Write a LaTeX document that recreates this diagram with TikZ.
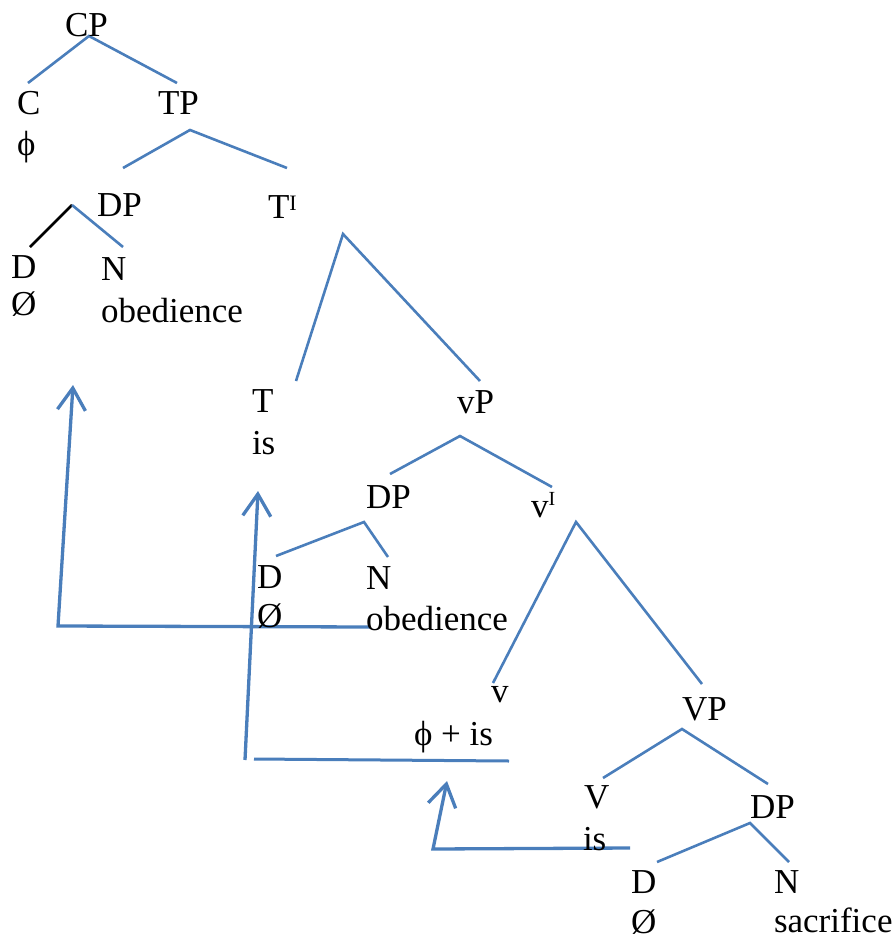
\documentclass[tikz,border=0pt]{standalone}
\usepackage{fontspec}
\setmainfont{Liberation Serif}
\usetikzlibrary{arrows.meta}
\definecolor{lineblue}{RGB}{74,126,187}
\newcommand{\supI}[2]{\raisebox{#2}{\fontsize{#1}{#1}\selectfont I}}
\begin{document}
\begin{tikzpicture}[x=1pt,y=-1pt,
  lbl/.style={anchor=base west, inner sep=0pt, outer sep=0pt, font=\fontsize{35}{42}\selectfont},
  branch/.style={draw=lineblue, line width=2.6pt},
  blackbranch/.style={draw=black, line width=2.6pt},
  movearrow/.style={draw=lineblue, line width=3.3pt, -{Straight Barb[length=22pt,width=28pt,line width=3.3pt]}},
  moveline/.style={draw=lineblue, line width=3pt}
]
\useasboundingbox (0,0) rectangle (895,939);

% ---------- branch coordinates ----------
\coordinate (cpB) at (89,36);   \coordinate (cT) at (28,83);   \coordinate (tpT) at (177,83);
\coordinate (tpB) at (190,130); \coordinate (dp1T) at (123,168); \coordinate (tbarT) at (287,168);
\coordinate (dp1B) at (72,205); \coordinate (d1T) at (30,247); \coordinate (n1T) at (123,247);
\coordinate (tbarB) at (343,234); \coordinate (tT) at (296,381); \coordinate (vpT) at (480,381);
\coordinate (vpB) at (460,436); \coordinate (dp2T) at (390,474); \coordinate (vbarT) at (552,487);
\coordinate (dp2B) at (364,522); \coordinate (d2T) at (276,556); \coordinate (n2T) at (388,557);
\coordinate (vbarB) at (576,522); \coordinate (vT) at (493,683); \coordinate (VPT) at (702,684);
\coordinate (VPB) at (682,729); \coordinate (VT) at (603,778); \coordinate (dp3T) at (768,784);
\coordinate (dp3B) at (750,823); \coordinate (d3T) at (657,862); \coordinate (n3T) at (789,862);

% ---------- branches ----------
\draw[branch] (cT) -- (cpB) -- (tpT);
\draw[branch] (dp1T) -- (tpB) -- (tbarT);
\draw[blackbranch] (d1T) -- (dp1B);
\draw[branch] (dp1B) -- (n1T);
\draw[branch] (tT) -- (tbarB) -- (vpT);
\draw[branch] (dp2T) -- (vpB) -- (vbarT);
\draw[branch] (d2T) -- (dp2B) -- (n2T);
\draw[branch] (vT) -- (vbarB) -- (VPT);
\draw[branch] (VT) -- (VPB) -- (dp3T);
\draw[branch] (d3T) -- (dp3B) -- (n3T);

% ---------- movement arrows ----------
\coordinate (m1s) at (370,627); \coordinate (m1c) at (58,626); \coordinate (m1t) at (73,385);
\draw[movearrow] (m1s) -- (m1c) -- (m1t);
\coordinate (m2s) at (245,760); \coordinate (m2t) at (258,491);
\draw[movearrow] (m2s) -- (m2t);
\coordinate (m2a) at (254,759); \coordinate (m2b) at (509,761);
\draw[moveline] (m2a) -- (m2b);
\coordinate (m3s) at (630,848); \coordinate (m3c) at (433,849); \coordinate (m3t) at (447,781);
\draw[movearrow] (m3s) -- (m3c) -- (m3t);

% ---------- labels ----------
\node[lbl] (cp) at (65,37) {CP};
\node[lbl] (c) at (17,115) {C};
\node[lbl] (cphi) at (17,155) {ϕ};
\node[lbl] (tp) at (158,115) {TP};
\node[lbl] (dp1) at (97,216) {DP};
\node[lbl] (tbar) at (268,218) {T\supI{22}{8pt}};
\node[lbl] (d1) at (11,278) {D};
\node[lbl] (d1null) at (11,315) {Ø};
\node[lbl] (n1) at (101,280) {N};
\node[lbl] (n1w) at (101,322) {obedience};
\node[lbl] (t) at (252,412) {T};
\node[lbl] (tis) at (252,454) {is};
\node[lbl] (vp) at (457,413) {vP};
\node[lbl] (dp2) at (366,508) {DP};
\node[lbl] (vbar) at (531,517) {v\supI{20}{12pt}};
\node[lbl] (d2) at (257,588) {D};
\node[lbl] (d2null) at (257,627) {Ø};
\node[lbl] (n2) at (366,589) {N};
\node[lbl] (n2w) at (366,630) {obedience};
\node[lbl] (v) at (491,702) {v};
\node[lbl] (vw) at (414,745) {ϕ + is};
\node[lbl] (VP) at (682,720) {VP};
\node[lbl] (V) at (584,808) {V};
\node[lbl] (Vis) at (583,850) {is};
\node[lbl] (dp3) at (750,818) {DP};
\node[lbl] (d3) at (631,893) {D};
\node[lbl] (d3null) at (631,933) {Ø};
\node[lbl] (n3) at (774,893) {N};
\node[lbl] (n3w) at (774,932) {sacrifice};
\end{tikzpicture}
\end{document}
